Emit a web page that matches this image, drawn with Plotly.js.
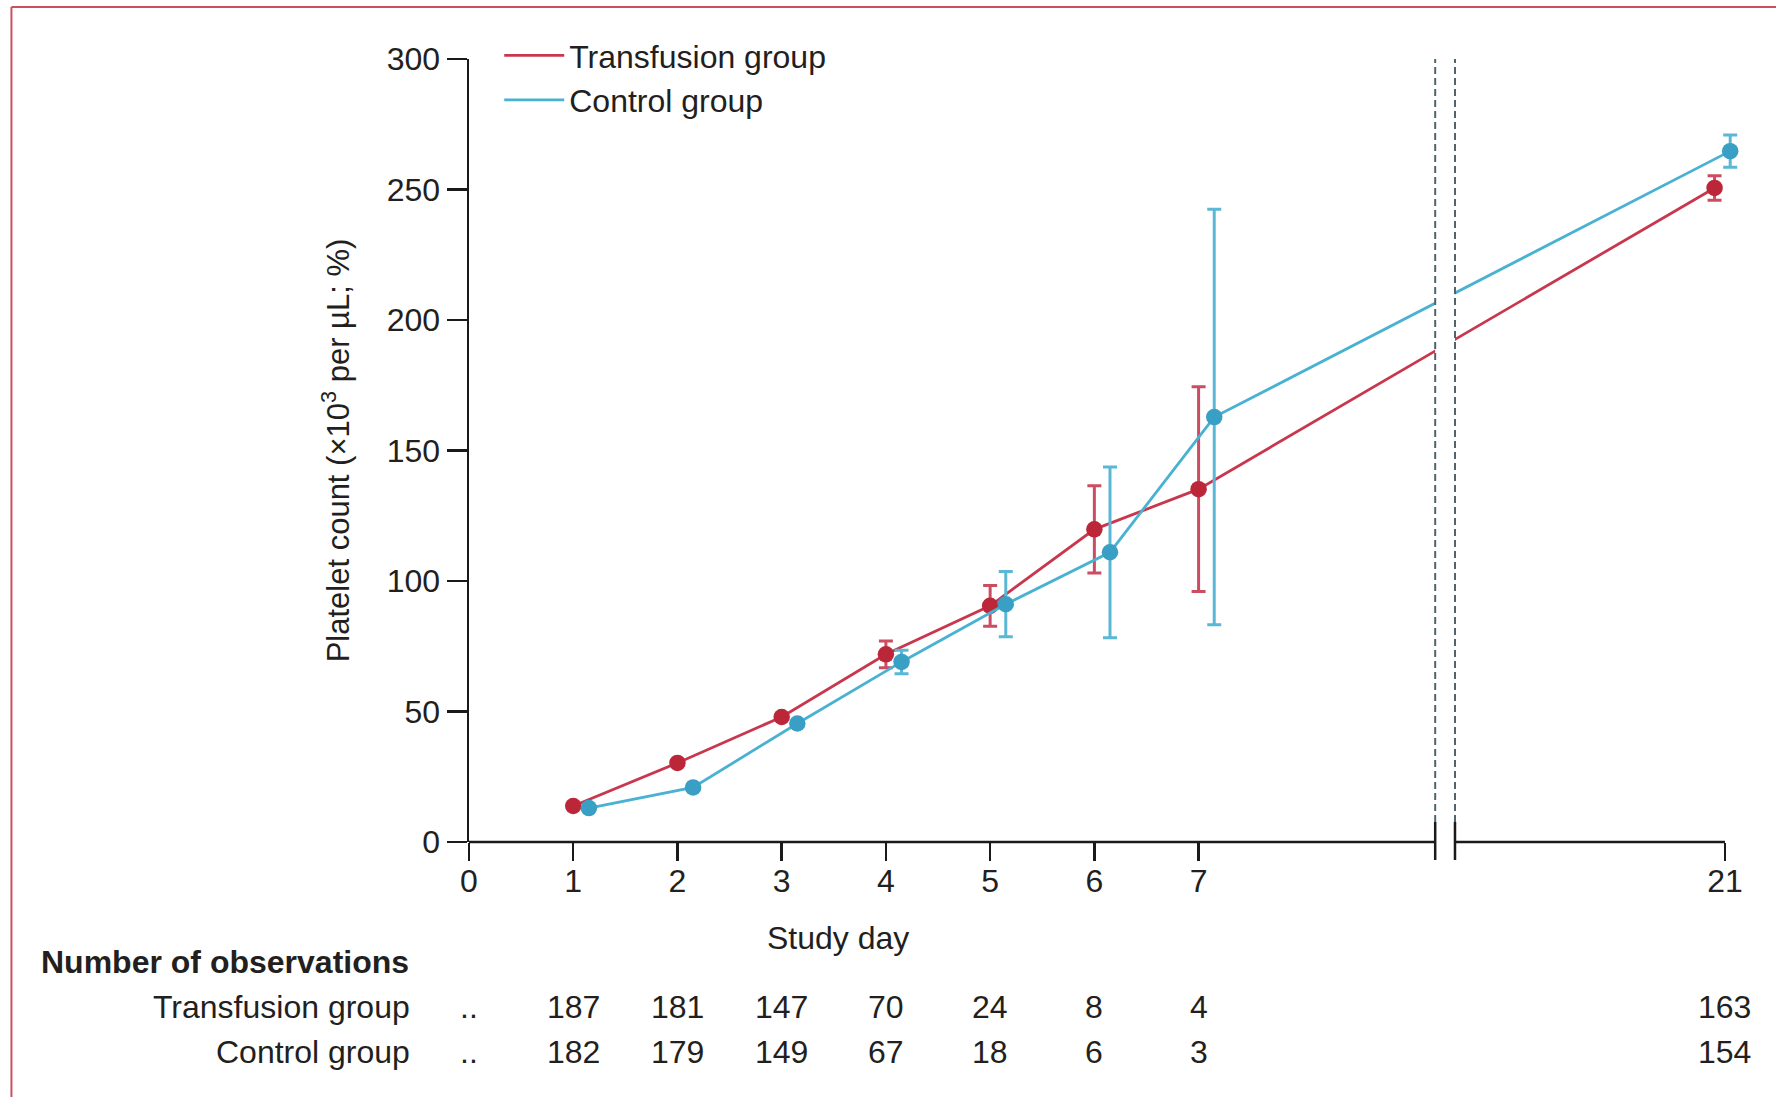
<!DOCTYPE html>
<html>
<head>
<meta charset="utf-8">
<script src="https://cdn.plot.ly/plotly-3.0.1.min.js"></script>
<style>html,body{margin:0;padding:0;background:#fff;}#chart{width:1776px;height:1097px;}</style>
</head>
<body>
<div id="chart"></div>
<script>
// ---- data ----
const days = [1, 2, 3, 4, 5, 6, 7, 21];
const transMean = [13.8, 30.3, 47.9, 71.9, 90.5, 119.8, 135.2, 250.6];
const transErr  = [1, 1, 1, 5.1, 7.8, 16.7, 39.2, 4.7];
const ctrlMean  = [13.0, 20.9, 45.4, 69.0, 91.1, 111.0, 162.8, 264.7];
const ctrlErr   = [1, 1, 1, 4.5, 12.5, 32.7, 79.6, 6.2];
const nTrans = [187, 181, 147, 70, 24, 8, 4, 163];
const nCtrl  = [182, 179, 149, 67, 18, 6, 3, 154];
const tickDays = [0, 1, 2, 3, 4, 5, 6, 7, 21];
const yTicks = [0, 50, 100, 150, 200, 250, 300];

// ---- layout helpers (broken axis: days after 7 are compressed) ----
const XMAX = 12.3, BREAK_A = 9.27, BREAK_B = 9.46, AXIS_END = 12.05;
const CTRL_DODGE = 0.15;
function pos(d) { return d <= 7 ? d : 7 + (d - 7) * 0.3536; }
function tickPos(d) { return d <= 7 ? d : AXIS_END; }
const px = v => v / XMAX; // x data -> paper

const FONT = 'Liberation Sans, Arial, sans-serif';
const TXT = '#231f20';
const RED = '#bb2739', RED_LINE = '#c8374d', RED_ERR = '#cc4d62';
const BLUE = '#3a9fc4', BLUE_LINE = '#49b1d1', BLUE_ERR = '#5ab8d5';

const xT = days.map(pos);
const xC = days.map(d => pos(d) + CTRL_DODGE);

const traces = [
  {x: xT, y: transMean, mode: 'lines', name: 'Transfusion group',
   line: {color: RED_LINE, width: 2.8}, hoverinfo: 'skip'},
  {x: xT, y: transMean, mode: 'markers', showlegend: false,
   marker: {color: RED, size: 16.5},
   error_y: {type: 'data', array: transErr, color: RED_ERR, thickness: 3, width: 7}},
  {x: xC, y: ctrlMean, mode: 'lines', name: 'Control group',
   line: {color: BLUE_LINE, width: 2.8}, hoverinfo: 'skip'},
  {x: xC, y: ctrlMean, mode: 'markers', showlegend: false,
   marker: {color: BLUE, size: 16.5},
   error_y: {type: 'data', array: ctrlErr, color: BLUE_ERR, thickness: 3, width: 7}}
];

const plotBottom = 842, plotH = 783;
const py = p => (plotBottom - p) / plotH; // pixel y -> paper y

const annotations = [
  {text: 'Study day', xref: 'x', yref: 'paper', x: 3.54, y: py(938), showarrow: false,
   font: {family: FONT, size: 32, color: TXT}, xanchor: 'center', yanchor: 'middle'},
  {text: '<b>Number of observations</b>', xref: 'paper', yref: 'paper', x: px(-4.13), y: py(962),
   showarrow: false, font: {family: FONT, size: 32, color: TXT}, xanchor: 'left', yanchor: 'middle'},
  {text: 'Transfusion group', xref: 'paper', yref: 'paper', x: px(-0.55), y: py(1007),
   showarrow: false, font: {family: FONT, size: 32, color: TXT}, xanchor: 'right', yanchor: 'middle'},
  {text: 'Control group', xref: 'paper', yref: 'paper', x: px(-0.55), y: py(1052),
   showarrow: false, font: {family: FONT, size: 32, color: TXT}, xanchor: 'right', yanchor: 'middle'},
  {text: '..', xref: 'x', yref: 'paper', x: 0, y: py(1007), showarrow: false,
   font: {family: FONT, size: 32, color: TXT}, xanchor: 'center', yanchor: 'middle'},
  {text: '..', xref: 'x', yref: 'paper', x: 0, y: py(1052), showarrow: false,
   font: {family: FONT, size: 32, color: TXT}, xanchor: 'center', yanchor: 'middle'}
];
days.forEach((d, i) => {
  annotations.push({text: String(nTrans[i]), xref: 'x', yref: 'paper', x: tickPos(d), y: py(1007),
    showarrow: false, font: {family: FONT, size: 32, color: TXT}, xanchor: 'center', yanchor: 'middle'});
  annotations.push({text: String(nCtrl[i]), xref: 'x', yref: 'paper', x: tickPos(d), y: py(1052),
    showarrow: false, font: {family: FONT, size: 32, color: TXT}, xanchor: 'center', yanchor: 'middle'});
});

const AX = '#1a1a1a';
const shapes = [
  // white gap for the axis break
  {type: 'rect', xref: 'paper', yref: 'paper', x0: px(BREAK_A), x1: px(BREAK_B), y0: 0.012, y1: 1.0,
   fillcolor: '#ffffff', line: {width: 0}, layer: 'above'},
  // dashed break lines
  {type: 'line', xref: 'paper', yref: 'paper', x0: px(BREAK_A), x1: px(BREAK_A), y0: py(822), y1: 1.0,
   line: {color: '#52636e', width: 2, dash: '7px,4px'}, layer: 'above'},
  {type: 'line', xref: 'paper', yref: 'paper', x0: px(BREAK_B), x1: px(BREAK_B), y0: py(822), y1: 1.0,
   line: {color: '#52636e', width: 2, dash: '7px,4px'}, layer: 'above'},
  // x axis line segments
  {type: 'line', xref: 'paper', yref: 'paper', x0: 0, x1: px(BREAK_A), y0: 0, y1: 0,
   line: {color: AX, width: 2.5}, layer: 'above'},
  {type: 'line', xref: 'paper', yref: 'paper', x0: px(BREAK_B), x1: px(AXIS_END), y0: 0, y1: 0,
   line: {color: AX, width: 2.5}, layer: 'above'},
  // break ticks
  {type: 'line', xref: 'paper', yref: 'paper', x0: px(BREAK_A), x1: px(BREAK_A), y0: py(822), y1: py(860),
   line: {color: AX, width: 2.5}, layer: 'above'},
  {type: 'line', xref: 'paper', yref: 'paper', x0: px(BREAK_B), x1: px(BREAK_B), y0: py(822), y1: py(860),
   line: {color: AX, width: 2.5}, layer: 'above'},
  // outer frame (left and top edges)
  {type: 'line', xref: 'paper', yref: 'paper', x0: px(-4.39), x1: px(-4.39), y0: py(7), y1: py(1110),
   line: {color: '#c9505c', width: 2}, layer: 'above'},
  {type: 'line', xref: 'paper', yref: 'paper', x0: px(-4.39), x1: px(13.0), y0: py(7), y1: py(7),
   line: {color: '#c9505c', width: 2}, layer: 'above'}
];

const layout = {
  width: 1776, height: 1097,
  margin: {l: 469, r: 25, t: 59, b: 255},
  paper_bgcolor: '#ffffff', plot_bgcolor: '#ffffff',
  font: {family: FONT, size: 32, color: TXT},
  showlegend: true,
  legend: {x: px(0.29), y: py(28), xanchor: 'left', yanchor: 'top', bgcolor: 'rgba(0,0,0,0)',
           font: {family: FONT, size: 32, color: TXT}, itemwidth: 60, traceorder: 'normal',
           tracegroupgap: 0},
  xaxis: {range: [0, XMAX], showline: false, showgrid: false, zeroline: false,
          tickmode: 'array', tickvals: tickDays.map(tickPos), ticktext: tickDays.map(String),
          ticks: 'outside', ticklen: 18, tickwidth: 2.5, tickcolor: AX, ticklabelstandoff: -7,
          tickfont: {family: FONT, size: 32, color: TXT}, fixedrange: true},
  yaxis: {range: [0, 300], showline: true, linecolor: AX, linewidth: 2.5, showgrid: false, zeroline: false,
          tickmode: 'array', tickvals: yTicks, ticks: 'outside', ticklen: 20, tickwidth: 2.5, tickcolor: AX,
          tickfont: {family: FONT, size: 32, color: TXT},
          title: {text: 'Platelet count (×10<sup>3</sup> per µL; %)', font: {family: FONT, size: 31, color: TXT}, standoff: 28},
          fixedrange: true},
  shapes: shapes,
  annotations: annotations
};

Plotly.newPlot('chart', traces, layout, {displayModeBar: false, staticPlot: true});
</script>
</body>
</html>
